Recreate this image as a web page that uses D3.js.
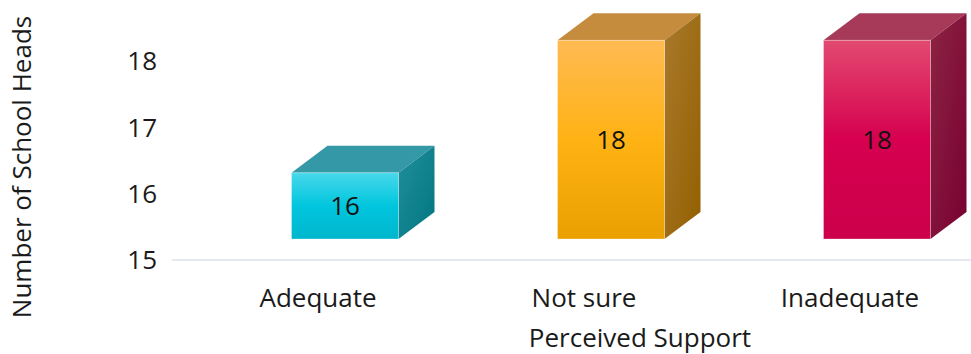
<!DOCTYPE html>
<html>
<head>
<meta charset="utf-8">
<script src="https://cdn.jsdelivr.net/npm/d3@7"></script>
<style>
  body { margin: 0; background: #fff; }
  svg { display: block; font-family: "Open Sans", "Noto Sans", sans-serif; }
</style>
</head>
<body>
<svg id="chart" width="971" height="354"></svg>
<script>
// datos
const categories = ["Adequate", "Not sure", "Inadequate"];
const values = [16, 18, 18];
const yTicks = [15, 16, 17, 18];
const xTitle = "Perceived Support";
const yTitle = "Number of School Heads";

// colores por barra: frente arriba / medio / abajo, tapa, lateral claro, lateral oscuro
const palette = [
  { front0: "#48d8eb", front1: "#00c6dd", front2: "#00b6cc", top: "#3598a6", side0: "#228f9b", side1: "#007680" },
  { front0: "#ffba52", front1: "#ffb214", front2: "#e9a000", top: "#c48c3c", side0: "#a97a2c", side1: "#935f00" },
  { front0: "#e24a70", front1: "#d6004f", front2: "#cc004b", top: "#a73a58", side0: "#8c2444", side1: "#780030" }
];

const svg = d3.select("#chart");
const defs = svg.append("defs");
const fontSize = 26;

// escalas
const x = d3.scaleBand().domain(categories).range([185, 983]);
const y = d3.scaleLinear().domain([15, 18]).range([260, 61.3]);

const barW = 107;   // ancho del frente
const shiftX = 27;  // desplazamiento del frente respecto a la categoria
const liftY = 21;   // el frente se dibuja un poco por encima del eje
const dx = 36, dy = -27; // profundidad

// linea base
svg.append("line")
  .attr("x1", 172).attr("x2", 971)
  .attr("y1", y(15)).attr("y2", y(15))
  .attr("stroke", "#dde2e8").attr("stroke-width", 1.5);

// etiquetas eje y
svg.selectAll(".ytick")
  .data(yTicks)
  .enter()
  .append("text")
  .attr("class", "ytick")
  .attr("x", 157)
  .attr("y", d => y(d))
  .attr("dy", "0.35em")
  .attr("text-anchor", "end")
  .attr("font-size", fontSize)
  .attr("fill", "#1a1a1a")
  .text(d => d);

// gradientes
palette.forEach((p, i) => {
  const gf = defs.append("linearGradient").attr("id", "front" + i)
    .attr("x1", 0).attr("y1", 0).attr("x2", 0).attr("y2", 1);
  gf.append("stop").attr("offset", "0%").attr("stop-color", p.front0);
  gf.append("stop").attr("offset", "50%").attr("stop-color", p.front1);
  gf.append("stop").attr("offset", "100%").attr("stop-color", p.front2);

  const gs = defs.append("linearGradient").attr("id", "side" + i)
    .attr("x1", 0).attr("y1", 0).attr("x2", 1).attr("y2", 1);
  gs.append("stop").attr("offset", "0%").attr("stop-color", p.side0);
  gs.append("stop").attr("offset", "100%").attr("stop-color", p.side1);
});

// barras 3D
const bars = svg.selectAll(".bar")
  .data(values.map((v, i) => ({ cat: categories[i], value: v, i })))
  .enter()
  .append("g")
  .attr("class", "bar");

bars.each(function (d) {
  const g = d3.select(this);
  const x0 = x(d.cat) + x.bandwidth() / 2 + shiftX - barW / 2;
  const x1 = x0 + barW;
  const yTop = y(d.value) - liftY;
  const yBot = y(15) - liftY;
  const p = palette[d.i];

  // tapa
  g.append("path")
    .attr("d", `M${x0},${yTop} L${x0 + dx},${yTop + dy} L${x1 + dx},${yTop + dy} L${x1},${yTop} Z`)
    .attr("fill", p.top);

  // lateral
  g.append("path")
    .attr("d", `M${x1},${yTop} L${x1 + dx},${yTop + dy} L${x1 + dx},${yBot + dy} L${x1},${yBot} Z`)
    .attr("fill", `url(#side${d.i})`);

  // frente
  g.append("rect")
    .attr("x", x0).attr("y", yTop)
    .attr("width", barW).attr("height", yBot - yTop)
    .attr("fill", `url(#front${d.i})`)
    .attr("stroke", "rgba(255,255,255,0.3)")
    .attr("stroke-width", 1);

  // valor
  g.append("text")
    .attr("x", (x0 + x1) / 2)
    .attr("y", (yTop + yBot) / 2)
    .attr("dy", "0.35em")
    .attr("text-anchor", "middle")
    .attr("font-size", fontSize)
    .attr("fill", "#111")
    .text(d.value);
});

// etiquetas eje x
svg.selectAll(".xtick")
  .data(categories)
  .enter()
  .append("text")
  .attr("class", "xtick")
  .attr("x", d => x(d) + x.bandwidth() / 2)
  .attr("y", 298)
  .attr("dy", "0.35em")
  .attr("text-anchor", "middle")
  .attr("font-size", fontSize)
  .attr("fill", "#1a1a1a")
  .text(d => d);

// titulos
svg.append("text")
  .attr("x", 640).attr("y", 338)
  .attr("dy", "0.35em")
  .attr("text-anchor", "middle")
  .attr("font-size", fontSize)
  .attr("fill", "#1a1a1a")
  .text(xTitle);

svg.append("text")
  .attr("transform", "translate(22,167) rotate(-90)")
  .attr("dy", "0.35em")
  .attr("text-anchor", "middle")
  .attr("font-size", fontSize)
  .attr("fill", "#1a1a1a")
  .text(yTitle);
</script>
</body>
</html>
